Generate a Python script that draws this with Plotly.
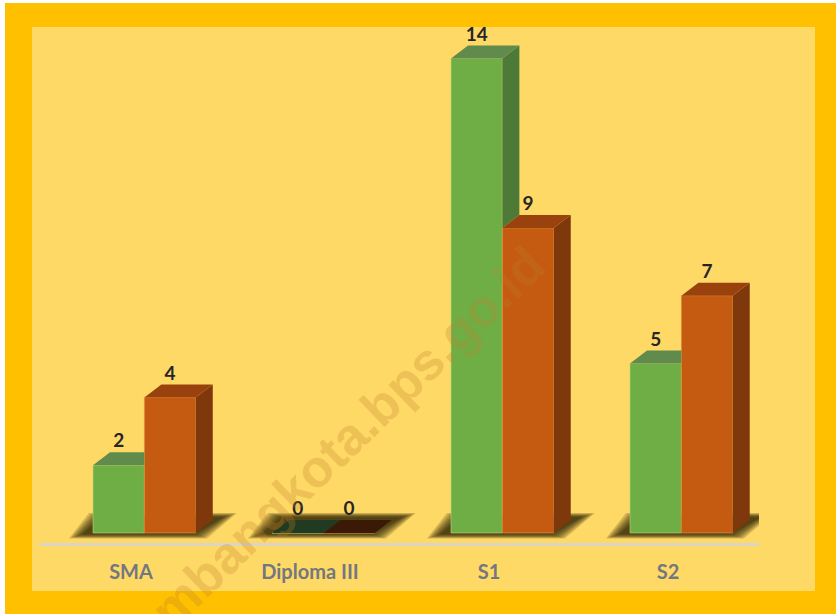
import plotly.graph_objects as go

# ---------------- data ----------------
categories = ["SMA", "Diploma III", "S1", "S2"]
series_green = [2, 0, 14, 5]
series_orange = [4, 0, 9, 7]
series_names = ["Laki-laki", "Perempuan"]
watermark = "palembangkota.bps.go.id"

# ---------------- geometry / style ----------------
W, H = 836, 614
ML, MR, MT, MB = 40, 77, 30, 71
PW, PH = W - ML - MR, H - MT - MB
PX_PER_X = 179.0
PX_PER_Y = 33.9
x_lo = -(131 - ML) / PX_PER_X
x_hi = x_lo + PW / PX_PER_X
y_lo = -10 / PX_PER_Y
y_hi = y_lo + PH / PX_PER_Y

BAR_W = 0.287
OFF_G = -38 / PX_PER_X
OFF_O = OFF_G + BAR_W
DX = 17 / PX_PER_X
DY = 13 / PX_PER_Y

C_G_FRONT = "#6FAE45"
C_G_TOP = "#618A4D"
C_G_SIDE = "#4E7A38"
C_O_FRONT = "#C55A11"
C_O_TOP = "#9A420D"
C_O_SIDE = "#7E380C"
C_G_ZERO = "#213A22"
C_O_ZERO = "#3A1906"


def pxx(px):
    return (px - ML) / PW


def pxy(py):
    return (MT + PH - py) / PH


def ux(px):
    return px / PX_PER_X


def uy(px):
    return px / PX_PER_Y


fig = go.Figure()

# front faces
fig.add_trace(go.Bar(
    x=list(range(len(categories))), y=series_green, name=series_names[0],
    width=BAR_W, offset=OFF_G, marker=dict(color=C_G_FRONT, line=dict(width=1, color="rgba(190,210,120,0.6)")),
    showlegend=False, hoverinfo="skip"))
fig.add_trace(go.Bar(
    x=list(range(len(categories))), y=series_orange, name=series_names[1],
    width=BAR_W, offset=OFF_O, marker=dict(color=C_O_FRONT, line=dict(width=1, color="rgba(230,150,60,0.6)")),
    showlegend=False, hoverinfo="skip"))


def poly(pts, color):
    xs = [p[0] for p in pts] + [pts[0][0]]
    ys = [p[1] for p in pts] + [pts[0][1]]
    fig.add_trace(go.Scatter(x=xs, y=ys, mode="lines", fill="toself", fillcolor=color,
                             line=dict(width=0, color=color), showlegend=False, hoverinfo="skip"))


shapes = []
# background frame
shapes.append(dict(type="rect", xref="paper", yref="paper", x0=pxx(5), x1=pxx(W), y0=pxy(H), y1=pxy(3),
                   fillcolor="#FFC000", line=dict(width=0), layer="below"))
shapes.append(dict(type="rect", xref="paper", yref="paper", x0=pxx(32), x1=pxx(815), y0=pxy(591), y1=pxy(27),
                   fillcolor="#FFD966", line=dict(width=0), layer="below"))

for i, (vg, vo) in enumerate(zip(series_green, series_orange)):
    xg0 = i + OFF_G
    xg1 = xg0 + BAR_W
    xo0 = i + OFF_O
    xo1 = xo0 + BAR_W
    left, right = xg0, xo1 + DX
    # floor shadow (layered to fake blur)
    for k in range(7):
        sx = k * 2.2
        sy = k * 0.7
        pts = [(left + ux(-24 + sx), uy(-5.5 + sy)),
               (right + ux(-6 - sx), uy(-5.5 + sy)),
               (right + ux(24 - sx), uy(20 - sy)),
               (left + ux(-4 + sx), uy(20 - sy))]
        path = "M " + " L ".join(f"{a},{b}" for a, b in pts) + " Z"
        shapes.append(dict(type="path", xref="x", yref="y", path=path,
                           fillcolor="rgba(40,30,0,0.2)", line=dict(width=0), layer="below"))
    # green visible side (above the orange bar)
    if vg > vo:
        poly([(xg1, vo), (xg1 + DX, vo + DY), (xg1 + DX, vg + DY), (xg1, vg)], C_G_SIDE)
    # green top
    gt = C_G_ZERO if vg == 0 else C_G_TOP
    if vg >= vo:
        poly([(xg0, vg), (xg1, vg), (xg1 + DX, vg + DY), (xg0 + DX, vg + DY)], gt)
    else:
        poly([(xg0, vg), (xg1, vg), (xg1, vg + DY), (xg0 + DX, vg + DY)], gt)
    # orange side
    if vo > 0:
        poly([(xo1, 0), (xo1 + DX, DY), (xo1 + DX, vo + DY), (xo1, vo)], C_O_SIDE)
    ot = C_O_ZERO if vo == 0 else C_O_TOP
    poly([(xo0, vo), (xo1, vo), (xo1 + DX, vo + DY), (xo0 + DX, vo + DY)], ot)

# value labels
lab_x, lab_y, lab_t = [], [], []
for i, (vg, vo) in enumerate(zip(series_green, series_orange)):
    lab_x += [i + OFF_G + BAR_W / 2, i + OFF_O + BAR_W / 2]
    lab_y += [vg + DY, vo + DY]
    lab_t += [str(vg), str(vo)]
fig.add_trace(go.Scatter(x=lab_x, y=lab_y, text=lab_t, mode="text", textposition="top center",
                         textfont=dict(family="Lato", size=19, color="#262626", weight="bold"),
                         cliponaxis=False, showlegend=False, hoverinfo="skip"))

fig.update_layout(
    width=W, height=H,
    margin=dict(l=ML, r=MR, t=MT, b=MB, pad=0),
    paper_bgcolor="#FFFFFF", plot_bgcolor="rgba(0,0,0,0)",
    barmode="overlay",
    shapes=shapes,
    xaxis=dict(range=[x_lo, x_hi], tickmode="array", tickvals=list(range(len(categories))),
               ticktext=categories, showgrid=False, zeroline=False, showline=True,
               linecolor="#DAD6C6", linewidth=3, ticks="", ticklabelstandoff=9,
               tickfont=dict(family="Lato", size=20, color="#737780", weight="bold"), fixedrange=True),
    yaxis=dict(range=[y_lo, y_hi], visible=False, showgrid=False, zeroline=False, fixedrange=True),
    annotations=[dict(text=watermark, xref="paper", yref="paper", x=pxx(310), y=pxy(474),
                      xanchor="center", yanchor="middle", textangle=-44, showarrow=False,
                      font=dict(family="Liberation Sans", size=52, color="rgba(190,130,40,0.27)", weight="bold"))],
)

fig.write_html("out.html", config={"displayModeBar": False, "staticPlot": True},
               post_script="document.body.style.margin='0';document.body.style.overflow='hidden';")
